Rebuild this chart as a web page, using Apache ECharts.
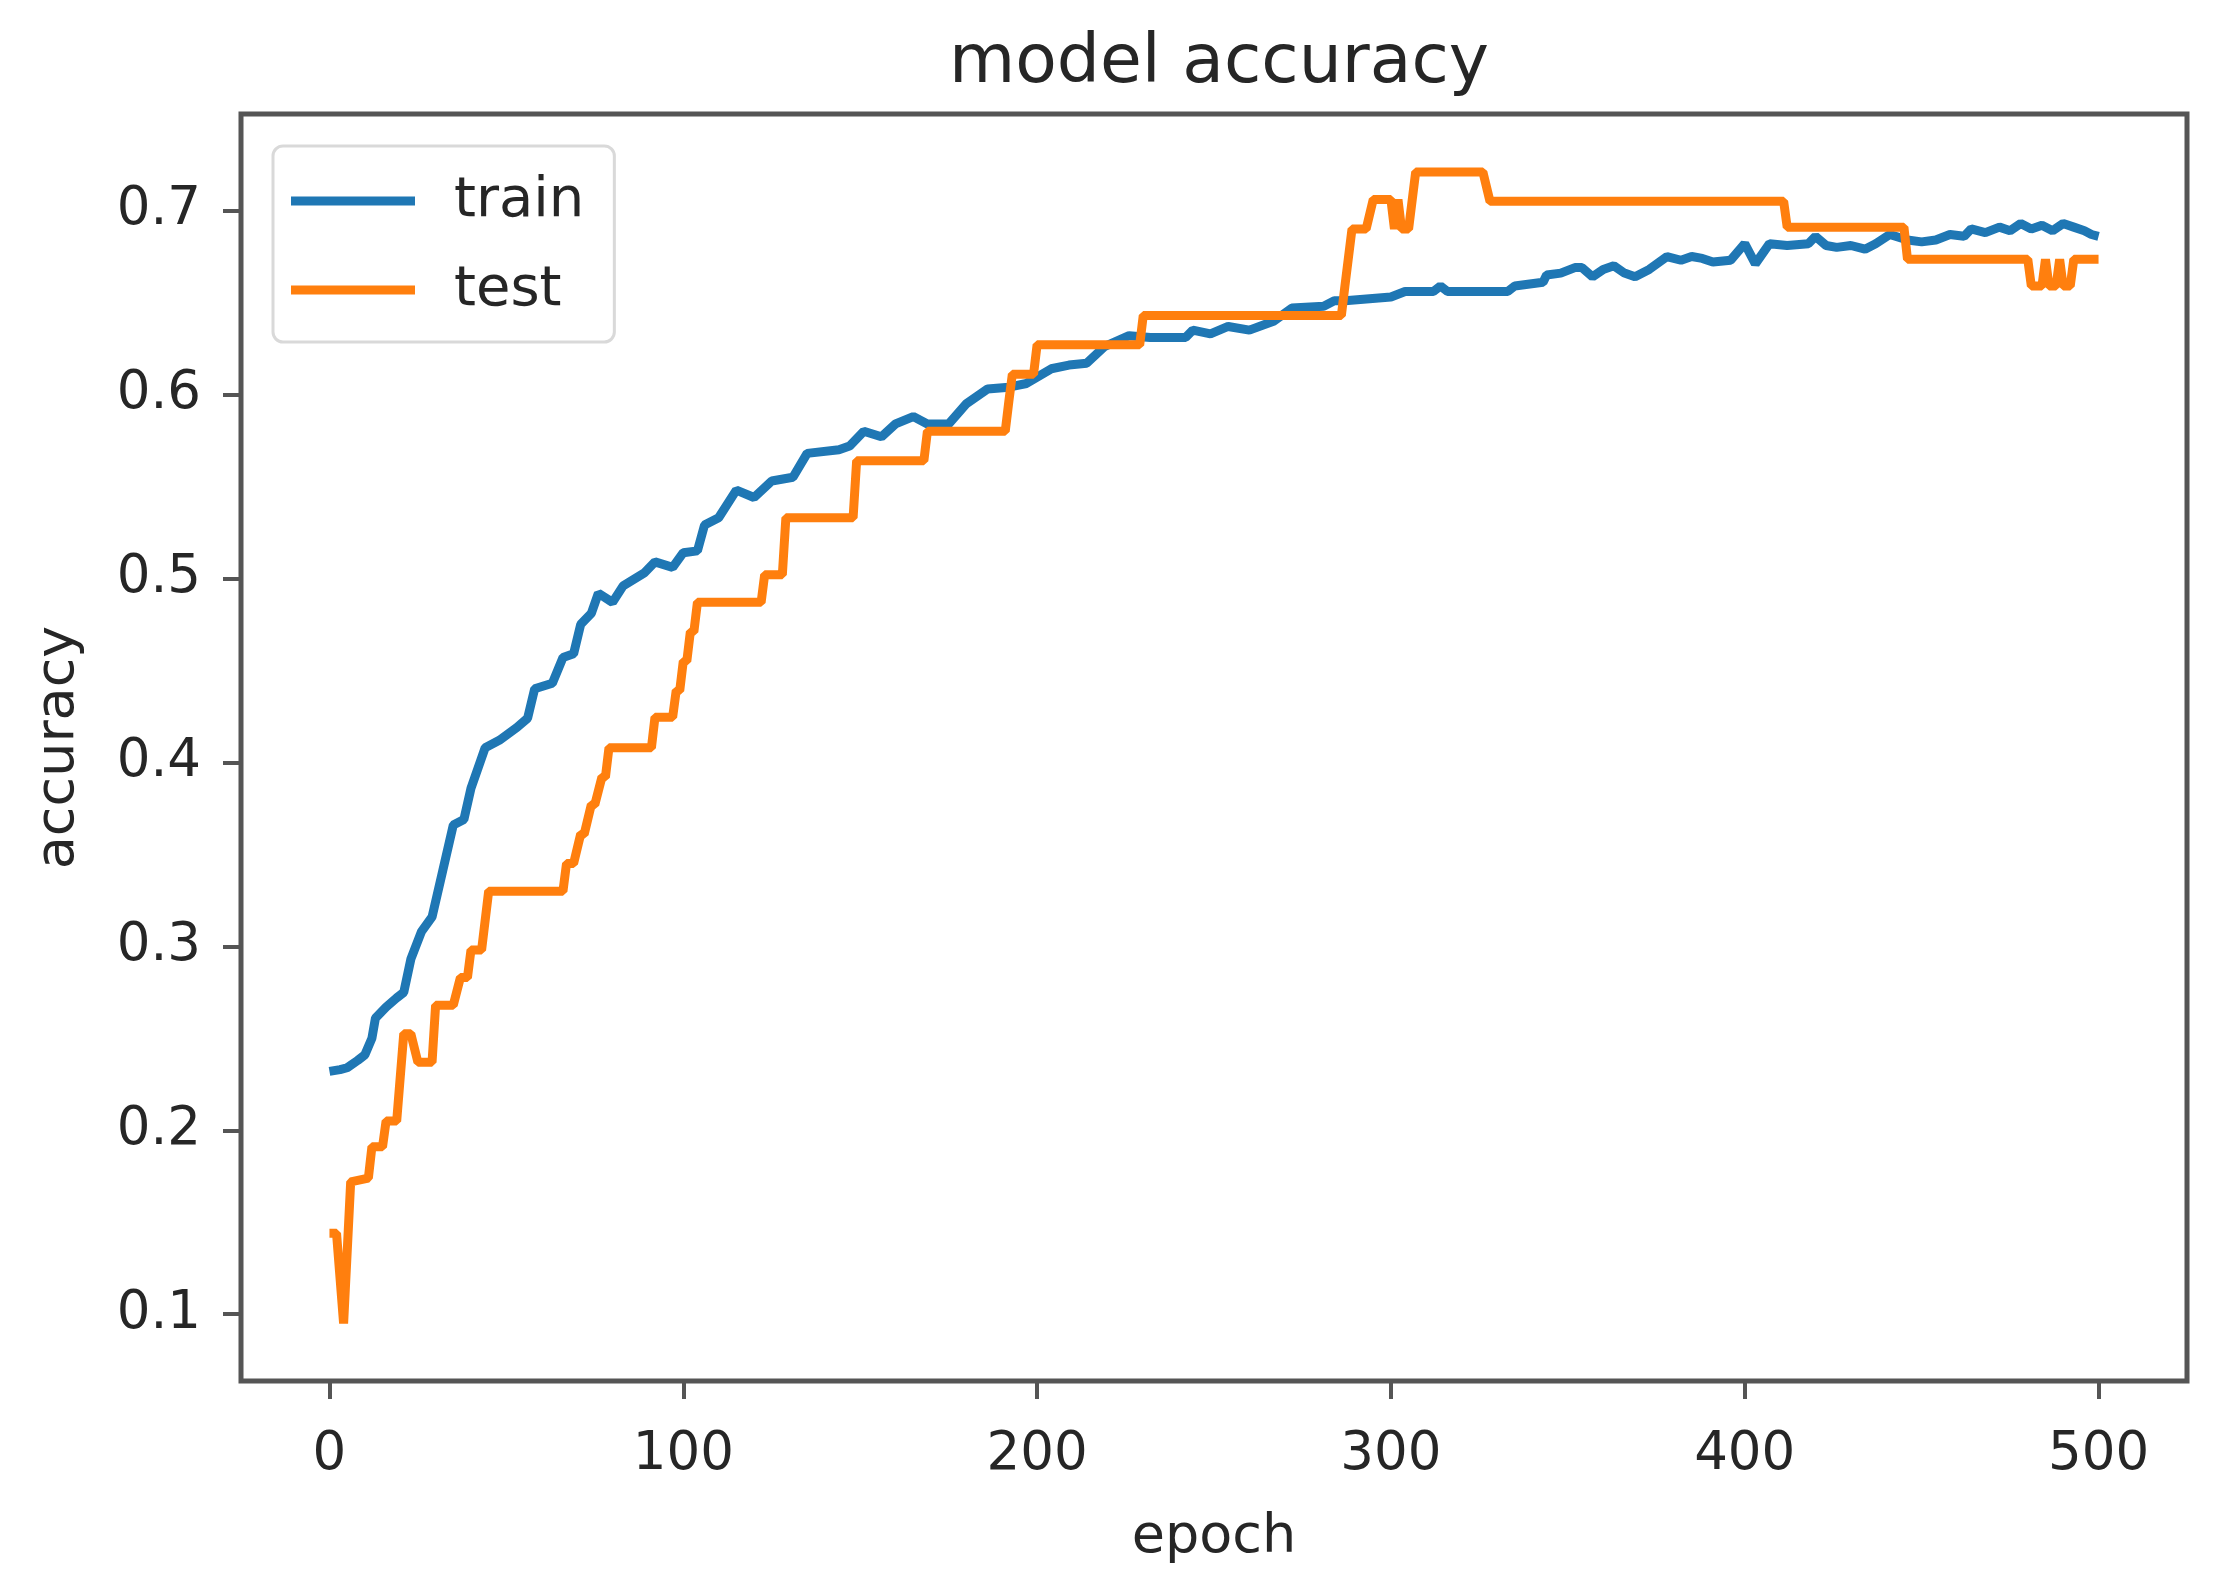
<!DOCTYPE html>
<html>
<head>
<meta charset="utf-8">
<title>model accuracy</title>
<script src="https://cdn.jsdelivr.net/npm/echarts@6.0.0/dist/echarts.min.js"></script>
<style>
  html, body { margin: 0; padding: 0; background: #fff; }
  #chart { width: 2227px; height: 1591px; }
</style>
</head>
<body>
<div id="chart"></div>
<script>
// values
const trainEpochs = [
  0, 3, 5, 8, 10, 12, 13, 16, 19, 21, 23, 26, 29, 32, 35, 38, 40, 44, 48, 53,
  56, 58, 63, 66, 69, 71, 74, 76, 80, 83, 89, 92, 97, 100, 104, 106, 110, 115, 120, 125,
  131, 135, 144, 147, 151, 156, 160, 165, 169, 175, 180, 186, 192, 197, 204, 209, 214, 219, 226, 232,
  242, 244, 249, 254, 260, 267, 272, 281, 284, 287, 300, 304, 312, 314, 316, 333, 335, 343, 344, 348,
  352, 354, 357, 360, 363, 366, 369, 373, 378, 382, 385, 388, 391, 396, 400, 403, 407, 412, 418, 420,
  423, 426, 430, 434, 437, 441, 446, 450, 454, 458, 462, 464, 468, 472, 475, 478, 481, 484, 487, 490,
  493, 496, 498, 500
];
const trainAcc = [
  0.232, 0.233, 0.234, 0.238, 0.241, 0.250, 0.261, 0.267, 0.272, 0.275, 0.293, 0.308, 0.316, 0.341, 0.366, 0.369, 0.386, 0.408, 0.412, 0.419,
  0.424, 0.440, 0.443, 0.457, 0.459, 0.475, 0.481, 0.492, 0.487, 0.496, 0.503, 0.509, 0.506, 0.514, 0.515, 0.529, 0.533, 0.548, 0.544, 0.553,
  0.555, 0.568, 0.570, 0.572, 0.580, 0.577, 0.584, 0.588, 0.584, 0.584, 0.595, 0.603, 0.604, 0.606, 0.614, 0.616, 0.617, 0.626, 0.632, 0.631,
  0.631, 0.635, 0.633, 0.637, 0.635, 0.640, 0.647, 0.648, 0.651, 0.651, 0.653, 0.656, 0.656, 0.659, 0.656, 0.656, 0.659, 0.661, 0.665, 0.666,
  0.669, 0.669, 0.664, 0.668, 0.670, 0.666, 0.664, 0.668, 0.675, 0.673, 0.675, 0.674, 0.672, 0.673, 0.682, 0.671, 0.682, 0.681, 0.682, 0.686,
  0.681, 0.680, 0.681, 0.679, 0.682, 0.687, 0.684, 0.683, 0.684, 0.687, 0.686, 0.690, 0.688, 0.691, 0.689, 0.693, 0.690, 0.692, 0.689, 0.693,
  0.691, 0.689, 0.687, 0.686
];
const testEpochs = [
  0, 2, 4, 6, 11, 12, 15, 16, 19, 21, 23, 25, 29, 30, 35, 37, 39, 40, 43, 45,
  66, 67, 69, 71, 72, 74, 75, 77, 78, 79, 91, 92, 97, 98, 99, 100, 101, 102, 103, 104,
  122, 123, 128, 129, 148, 149, 168, 169, 191, 192, 193, 199, 200, 229, 230, 286, 287, 289, 293, 295,
  300, 301, 302, 303, 305, 307, 326, 328, 411, 412, 445, 446, 480, 481, 484, 485, 486, 488, 489, 490,
  492, 493, 500
];
const testAcc = [
  0.144, 0.144, 0.095, 0.172, 0.174, 0.191, 0.191, 0.205, 0.205, 0.2525, 0.2525, 0.237, 0.237, 0.268, 0.268, 0.283, 0.283, 0.298, 0.298, 0.330,
  0.330, 0.345, 0.345, 0.361, 0.361, 0.377, 0.377, 0.392, 0.392, 0.408, 0.408, 0.4246, 0.4246, 0.439, 0.439, 0.455, 0.455, 0.471, 0.471, 0.487,
  0.487, 0.502, 0.502, 0.533, 0.533, 0.564, 0.564, 0.580, 0.580, 0.596, 0.611, 0.611, 0.627, 0.627, 0.643, 0.643, 0.659, 0.690, 0.690, 0.706,
  0.706, 0.690, 0.706, 0.690, 0.690, 0.721, 0.721, 0.705, 0.705, 0.691, 0.691, 0.6735, 0.6735, 0.659, 0.659, 0.6735, 0.659, 0.659, 0.6735, 0.659,
  0.659, 0.6735, 0.6735
];
const seriesNames = ['train', 'test'];
const xTicks = [0, 100, 200, 300, 400, 500];
const yTicks = [0.1, 0.2, 0.3, 0.4, 0.5, 0.6, 0.7];

const zip = (xs, ys) => xs.map((x, i) => [x, ys[i]]);
const font = 'DejaVu Sans';
const ink = '#262626';
const spine = '#555555';

const myChart = echarts.init(document.getElementById('chart'));
myChart.setOption({
  animation: false,
  backgroundColor: '#ffffff',
  title: {
    text: 'model accuracy',
    left: 1214,
    top: 25,
    textAlign: 'center',
    textStyle: { fontSize: 68, fontWeight: 'normal', color: ink, fontFamily: font }
  },
  grid: {
    left: 241, right: 40, top: 114, bottom: 210,
    show: true, borderColor: spine, borderWidth: 5, backgroundColor: 'transparent'
  },
  legend: {
    orient: 'vertical',
    left: 273,
    top: 146,
    icon: 'rect',
    itemWidth: 124,
    itemHeight: 9,
    itemGap: 33,
    padding: [27, 30, 24, 18],
    backgroundColor: '#ffffff',
    borderColor: '#d9d9d9',
    borderWidth: 3,
    borderRadius: 10,
    selectedMode: false,
    textStyle: { fontSize: 56, color: ink, fontFamily: font, padding: [0, 0, 0, 34] },
    data: seriesNames
  },
  xAxis: {
    type: 'value',
    min: -25,
    max: 525,
    name: 'epoch',
    nameLocation: 'middle',
    nameGap: 130,
    nameTextStyle: { fontSize: 54, color: ink, fontFamily: font },
    axisLine: { show: false, onZero: false },
    splitLine: { show: false },
    axisTick: { show: true, length: 18, lineStyle: { color: spine, width: 4 }, customValues: xTicks },
    axisLabel: { customValues: xTicks, fontSize: 53, margin: 48, color: ink, fontFamily: font }
  },
  yAxis: {
    type: 'value',
    min: 0.0637,
    max: 0.7525,
    name: 'accuracy',
    nameLocation: 'middle',
    nameGap: 155,
    nameTextStyle: { fontSize: 54, color: ink, fontFamily: font },
    axisLine: { show: false, onZero: false },
    splitLine: { show: false },
    axisTick: { show: true, length: 18, lineStyle: { color: spine, width: 4 }, customValues: yTicks },
    axisLabel: {
      customValues: yTicks, fontSize: 53, margin: 40, color: ink, fontFamily: font,
      formatter: v => v.toFixed(1)
    }
  },
  series: [
    {
      name: seriesNames[0],
      type: 'line',
      data: zip(trainEpochs, trainAcc),
      symbol: 'none',
      color: '#1f77b4',
      lineStyle: { width: 9, color: '#1f77b4' }
    },
    {
      name: seriesNames[1],
      type: 'line',
      data: zip(testEpochs, testAcc),
      symbol: 'none',
      color: '#ff7f0e',
      lineStyle: { width: 9, color: '#ff7f0e' }
    }
  ]
});
</script>
</body>
</html>
